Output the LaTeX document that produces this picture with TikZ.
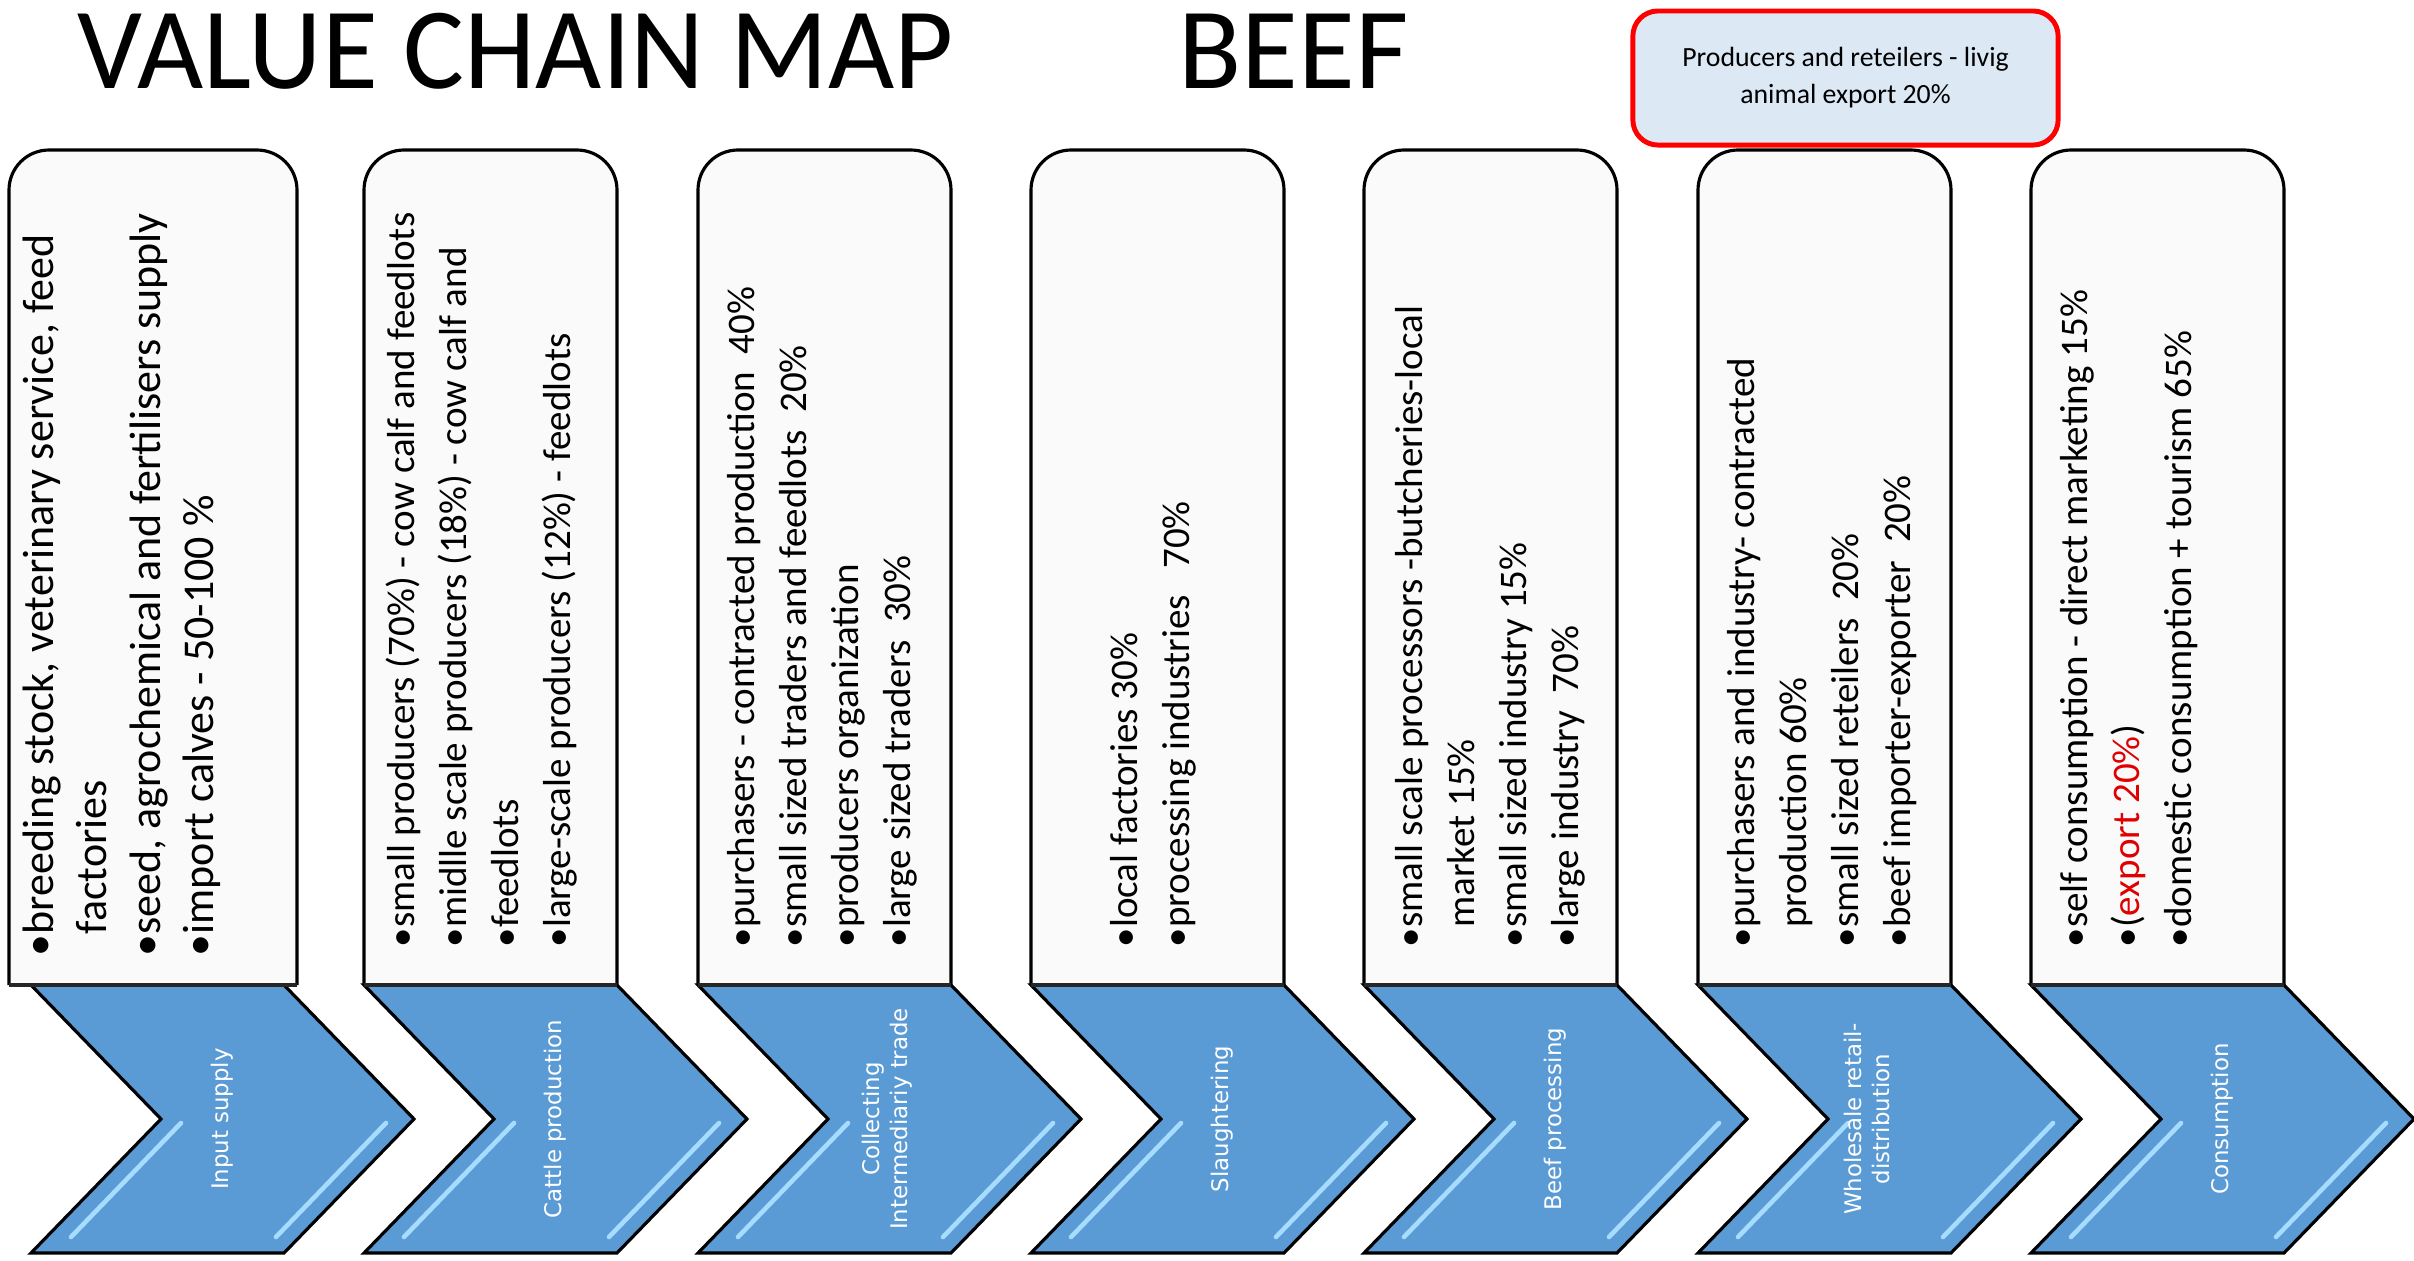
\documentclass[tikz,border=0pt]{standalone}
\usepackage{graphicx}
\usepackage{fontspec}
\setmainfont{Carlito}
\newfontfamily\chevfont{DejaVu Sans}
\definecolor{chevblue}{HTML}{5B9BD5}
\definecolor{chevshine}{HTML}{A6DCFF}
\definecolor{boxgray}{HTML}{FAFAFA}
\definecolor{notefill}{HTML}{DCE8F4}
\definecolor{notered}{HTML}{FF0000}
\definecolor{exportred}{HTML}{E00000}
\tikzset{
  stagebox/.style={fill=boxgray, draw=black, line width=0.9pt, rounded corners=0.4cm},
  stagebase/.style={draw=black!85, line width=1.4pt},
  chevron/.style={fill=chevblue, draw=black, line width=0.9pt, line join=miter},
  shine/.style={draw=chevshine, line width=1.3pt, line cap=round},
  stagetext/.style={rotate=90, anchor=west, inner sep=0pt, align=left, font=\fontsize{11.1}{14.8}\selectfont},
  stagelabel/.style={rotate=90, text=white, align=center, inner sep=0pt, font=\chevfont\fontsize{6.5}{8}\selectfont},
  headline/.style={anchor=base west, inner sep=0pt, font=\fontsize{33}{40}\selectfont},
  exportnote/.style={fill=notefill, draw=notered, line width=1.4pt, rounded corners=0.25cm, align=center, font=\fontsize{7.9}{10.5}\selectfont}
}
\begin{document}
\begin{tikzpicture}[x=0.01cm, y=-0.01cm]
    \useasboundingbox (0,0) rectangle (2414,1260);

    \node[headline] at (77,88) (maptitle) {\scalebox{0.985}[1]{VALUE CHAIN MAP}};
    \node[headline] at (1178,88) (beef) {BEEF};
    \node[exportnote, minimum width=4.25cm, minimum height=1.34cm] at (1845.5,78) (livenote) {Producers and reteilers - livig\\animal export 20\%};

    \filldraw[chevron] (31,985) -- ++(253,0) -- ++(130,134) -- ++(-130,134) -- ++(-253,0) -- ++(130,-134) -- cycle;
    \filldraw[chevron] (364,985) -- ++(253,0) -- ++(130,134) -- ++(-130,134) -- ++(-253,0) -- ++(130,-134) -- cycle;
    \filldraw[chevron] (698,985) -- ++(253,0) -- ++(130,134) -- ++(-130,134) -- ++(-253,0) -- ++(130,-134) -- cycle;
    \filldraw[chevron] (1031,985) -- ++(253,0) -- ++(130,134) -- ++(-130,134) -- ++(-253,0) -- ++(130,-134) -- cycle;
    \filldraw[chevron] (1364,985) -- ++(253,0) -- ++(130,134) -- ++(-130,134) -- ++(-253,0) -- ++(130,-134) -- cycle;
    \filldraw[chevron] (1698,985) -- ++(253,0) -- ++(130,134) -- ++(-130,134) -- ++(-253,0) -- ++(130,-134) -- cycle;
    \filldraw[chevron] (2031,985) -- ++(253,0) -- ++(130,134) -- ++(-130,134) -- ++(-253,0) -- ++(130,-134) -- cycle;

    \draw[shine] (181,1123) -- ++(-110,114);
    \draw[shine] (386,1123) -- ++(-110,114);
    \draw[shine] (514,1123) -- ++(-110,114);
    \draw[shine] (719,1123) -- ++(-110,114);
    \draw[shine] (848,1123) -- ++(-110,114);
    \draw[shine] (1053,1123) -- ++(-110,114);
    \draw[shine] (1181,1123) -- ++(-110,114);
    \draw[shine] (1386,1123) -- ++(-110,114);
    \draw[shine] (1514,1123) -- ++(-110,114);
    \draw[shine] (1719,1123) -- ++(-110,114);
    \draw[shine] (1848,1123) -- ++(-110,114);
    \draw[shine] (2053,1123) -- ++(-110,114);
    \draw[shine] (2181,1123) -- ++(-110,114);
    \draw[shine] (2386,1123) -- ++(-110,114);

    \filldraw[stagebox] (9,985) -- (9,150) -- (297,150) -- (297,985);
    \filldraw[stagebox] (364,985) -- (364,150) -- (617,150) -- (617,985);
    \filldraw[stagebox] (698,985) -- (698,150) -- (951,150) -- (951,985);
    \filldraw[stagebox] (1031,985) -- (1031,150) -- (1284,150) -- (1284,985);
    \filldraw[stagebox] (1364,985) -- (1364,150) -- (1617,150) -- (1617,985);
    \filldraw[stagebox] (1698,985) -- (1698,150) -- (1951,150) -- (1951,985);
    \filldraw[stagebox] (2031,985) -- (2031,150) -- (2284,150) -- (2284,985);

    \draw[stagebase] (9,985) -- (297,985);
    \draw[stagebase] (364,985) -- (617,985);
    \draw[stagebase] (698,985) -- (951,985);
    \draw[stagebase] (1031,985) -- (1284,985);
    \draw[stagebase] (1364,985) -- (1617,985);
    \draw[stagebase] (1698,985) -- (1951,985);
    \draw[stagebase] (2031,985) -- (2284,985);

    \node[stagelabel] at (222.5,1119) (input) {Input supply};
    \node[stagelabel] at (555.5,1119) (cattle) {Cattle production};
    \node[stagelabel] at (887,1119) (collect) {Collecting\\Intermediariy trade};
    \node[stagelabel] at (1222.5,1119) (slaughter) {Slaughtering};
    \node[stagelabel] at (1555.5,1119) (process) {Beef processing};
    \node[stagelabel] at (1867,1119) (wholesale) {Wholesale retail-\\distribution};
    \node[stagelabel] at (2222.5,1119) (consume) {Consumption};

    \node[stagetext, font=\fontsize{12.5}{15.2}\selectfont] at (122,957) (inputtext) {\textbullet breeding stock, veterinary service, feed\\\phantom{\textbullet}factories\\\textbullet seed, agrochemical and fertilisers supply\\\textbullet import calves - 50-100 \%};
    \node[stagetext] at (482,948) (cattletext) {\textbullet small producers (70\%) - cow calf and feedlots\\\textbullet midlle scale producers (18\%) - cow calf and\\\textbullet feedlots\\\textbullet large-scale producers (12\%) - feedlots};
    \node[stagetext] at (822,948) (collecttext) {\textbullet purchasers - contracted production~~40\%\\\textbullet small sized traders and feedlots~~20\%\\\textbullet producers organization\\\textbullet large sized traders~~30\%};
    \node[stagetext] at (1153,948) (slaughtertext) {\textbullet local factories 30\%\\\textbullet processing industries~~~70\%};
    \node[stagetext] at (1490,948) (processtext) {\textbullet small scale processors~-butcheries-local\\\phantom{\textbullet}market 15\%\\\textbullet small sized industry 15\%\\\textbullet large industry~~70\%};
    \node[stagetext] at (1822,948) (wholesaletext) {\textbullet purchasers and industry- contracted\\\phantom{\textbullet}production 60\%\\\textbullet small sized reteilers~~20\%\\\textbullet beef importer-exporter~~20\%};
    \node[stagetext] at (2129,948) (consumetext) {\textbullet self consumption - direct marketing 15\%\\\textbullet(\textcolor{exportred}{export 20\%})\\\textbullet domestic consumption + tourism 65\%};

\end{tikzpicture}
\end{document}
